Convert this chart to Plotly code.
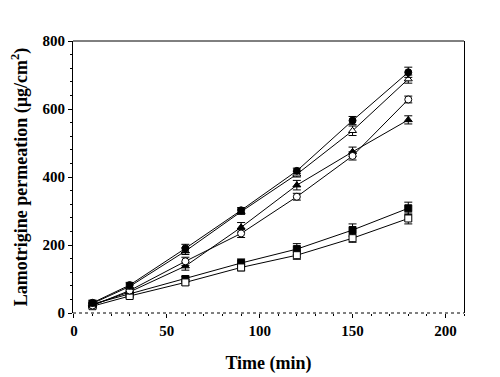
import plotly.graph_objects as go

time_min = [10, 30, 60, 90, 120, 150, 180]
filled_circle = [30, 82, 190, 302, 418, 566, 708]
open_triangle = [28, 78, 182, 298, 408, 536, 688]
open_circle = [22, 66, 152, 234, 342, 462, 628]
filled_triangle = [24, 62, 138, 252, 376, 474, 568]
filled_square = [26, 56, 100, 147, 188, 244, 308]
open_square = [20, 50, 90, 134, 170, 220, 278]

err_fc = [8, 8, 12, 8, 8, 12, 15]
err_ot = [8, 8, 10, 8, 8, 14, 12]
err_oc = [6, 6, 12, 12, 10, 12, 10]
err_ft = [6, 6, 12, 14, 14, 14, 12]
err_fs = [6, 6, 8, 12, 16, 18, 18]
err_os = [6, 6, 8, 10, 12, 12, 16]

series = [
    (filled_square, err_fs, "square", "black"),
    (open_square, err_os, "square", "white"),
    (filled_triangle, err_ft, "triangle-up", "black"),
    (open_circle, err_oc, "circle", "white"),
    (open_triangle, err_ot, "triangle-up", "white"),
    (filled_circle, err_fc, "circle", "black"),
]

fig = go.Figure()
for vals, err, sym, fill in series:
    fig.add_trace(go.Scatter(
        x=time_min, y=vals, mode="lines+markers",
        line=dict(color="black", width=1),
        marker=dict(symbol=sym, size=7, color=fill, line=dict(color="black", width=1)),
        error_y=dict(type="data", array=err, color="black", thickness=1, width=4),
        showlegend=False,
    ))

font_ticks = dict(family="Liberation Serif", size=15, color="black")
title_font = dict(family="Liberation Serif", size=18, color="black")
fig.update_layout(
    width=492, height=369,
    margin=dict(l=65, r=36, t=33, b=64),
    plot_bgcolor="white", paper_bgcolor="white",
    xaxis=dict(
        range=[-0.5, 210], showgrid=False, zeroline=False, showline=False, automargin=False,
        tickmode="array", tickvals=[0, 50, 100, 150, 200],
        ticktext=["<b>0</b>", "<b>50</b>", "<b>100</b>", "<b>150</b>", "<b>200</b>"],
        ticks="outside", ticklen=4, tickcolor="black",
        minor=dict(dtick=10, ticks="outside", ticklen=2, tickcolor="black"),
        tickfont=font_ticks,
        title=dict(text="<b>Time (min)</b>", font=title_font, standoff=18),
    ),
    yaxis=dict(
        range=[0, 800], showgrid=False, zeroline=False, showline=True, linecolor="black",
        linewidth=1, mirror=True, automargin=False,
        tickmode="array", tickvals=[0, 200, 400, 600, 800],
        ticktext=["<b>0</b>", "<b>200</b>", "<b>400</b>", "<b>600</b>", "<b>800</b>"],
        ticks="outside", ticklen=4, tickcolor="black",
        minor=dict(dtick=40, ticks="outside", ticklen=2, tickcolor="black"),
        tickfont=font_ticks,
        title=dict(text="<b>Lamotrigine permeation (µg/cm<sup>2</sup>)</b>",
                   font=title_font, standoff=12),
    ),
    shapes=[
        dict(type="line", xref="paper", yref="paper", x0=0, x1=1, y0=1, y1=1,
             line=dict(color="black", width=1)),
        dict(type="line", xref="paper", yref="paper", x0=0, x1=1, y0=0, y1=0,
             line=dict(color="black", width=1, dash="dot")),
    ],
)

fig.write_html("out.html")
